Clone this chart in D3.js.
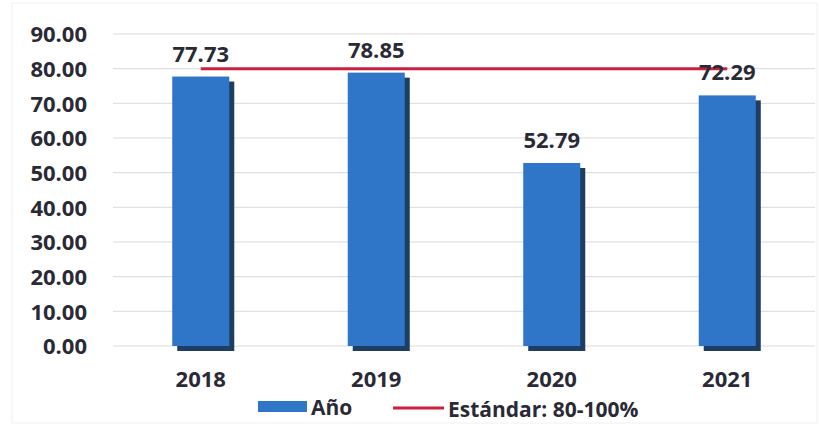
<!DOCTYPE html>
<html lang="es">
<head>
  <meta charset="UTF-8">
  <title>Año vs Estándar</title>
  <script src="https://d3js.org/d3.v7.min.js"></script>
  <style>
    body { margin: 0; background: #fff; }
    text { font-family: "Open Sans", "Noto Sans", sans-serif; font-weight: bold; fill: #2a2a36; }
  </style>
</head>
<body>
  <svg id="chart" width="819" height="425"></svg>

  <script>
    // data
    const years = ['2018', '2019', '2020', '2021'];
    const values = [77.73, 78.85, 52.79, 72.29];
    const standard = [80, 80, 80, 80];
    const yTicks = [0, 10, 20, 30, 40, 50, 60, 70, 80, 90];

    const svg = d3.select('#chart');
    const margin = { top: 34, right: 4, bottom: 79, left: 113 };
    const width = 819 - margin.left - margin.right;
    const height = 425 - margin.top - margin.bottom;

    // faint outline of the chart area
    svg.append('rect')
      .attr('x', 12).attr('y', 3)
      .attr('width', 805).attr('height', 420)
      .attr('fill', 'none')
      .attr('stroke', '#f0f0f0');

    const g = svg.append('g')
      .attr('transform', `translate(${margin.left},${margin.top})`);

    const x = d3.scaleBand()
      .domain(years)
      .range([0, width])
      .paddingInner(0.675)
      .paddingOuter(0.3375);

    const y = d3.scaleLinear()
      .domain([0, 90])
      .range([height, 0]);

    // gridlines
    g.append('g')
      .selectAll('line')
      .data(yTicks)
      .enter().append('line')
      .attr('x1', 0)
      .attr('x2', width)
      .attr('y1', d => y(d))
      .attr('y2', d => y(d))
      .attr('stroke', '#dadada')
      .attr('stroke-width', 1);

    // y axis labels
    const yAxis = g.append('g')
      .attr('transform', 'translate(-23,0)')
      .call(d3.axisLeft(y).tickValues(yTicks).tickFormat(d3.format('.2f')).tickSize(0));
    yAxis.select('.domain').remove();
    yAxis.selectAll('text')
      .attr('dy', '0.36em')
      .style('font-size', '22px');

    // x axis labels
    const xAxis = g.append('g')
      .attr('transform', `translate(0,${height})`)
      .call(d3.axisBottom(x).tickSize(0));
    xAxis.select('.domain').remove();
    xAxis.selectAll('text')
      .attr('y', 25)
      .attr('dy', '0.71em')
      .style('font-size', '22px');

    // bar shadows
    g.append('g')
      .selectAll('rect')
      .data(values)
      .enter().append('rect')
      .attr('x', (d, i) => x(years[i]) + 5)
      .attr('y', d => y(d) + 5)
      .attr('width', x.bandwidth())
      .attr('height', d => height - y(d))
      .attr('fill', '#1d3d63');

    // bars
    g.append('g')
      .selectAll('rect')
      .data(values)
      .enter().append('rect')
      .attr('x', (d, i) => x(years[i]))
      .attr('y', d => y(d))
      .attr('width', x.bandwidth())
      .attr('height', d => height - y(d))
      .attr('fill', '#2f76c9');

    // standard line
    const line = d3.line()
      .x((d, i) => x(years[i]) + x.bandwidth() / 2)
      .y(d => y(d));

    g.append('path')
      .datum(standard)
      .attr('d', line)
      .attr('fill', 'none')
      .attr('stroke', '#cc1f3f')
      .attr('stroke-width', 3);

    // value labels
    g.append('g')
      .selectAll('text')
      .data(values)
      .enter().append('text')
      .attr('x', (d, i) => x(years[i]) + x.bandwidth() / 2)
      .attr('y', d => y(d) - 15)
      .attr('text-anchor', 'middle')
      .style('font-size', '22px')
      .text(d => d3.format('.2f')(d));

    // legend
    const legend = svg.append('g');
    legend.append('rect')
      .attr('x', 258).attr('y', 401)
      .attr('width', 49).attr('height', 11)
      .attr('fill', '#2f76c9');
    legend.append('text')
      .attr('x', 311).attr('y', 415)
      .style('font-size', '21px')
      .text('Año');
    legend.append('line')
      .attr('x1', 393).attr('x2', 444)
      .attr('y1', 408).attr('y2', 408)
      .attr('stroke', '#cc1f3f')
      .attr('stroke-width', 3);
    legend.append('text')
      .attr('x', 448).attr('y', 417)
      .style('font-size', '21px')
      .text('Estándar: 80-100%');
  </script>
</body>
</html>
